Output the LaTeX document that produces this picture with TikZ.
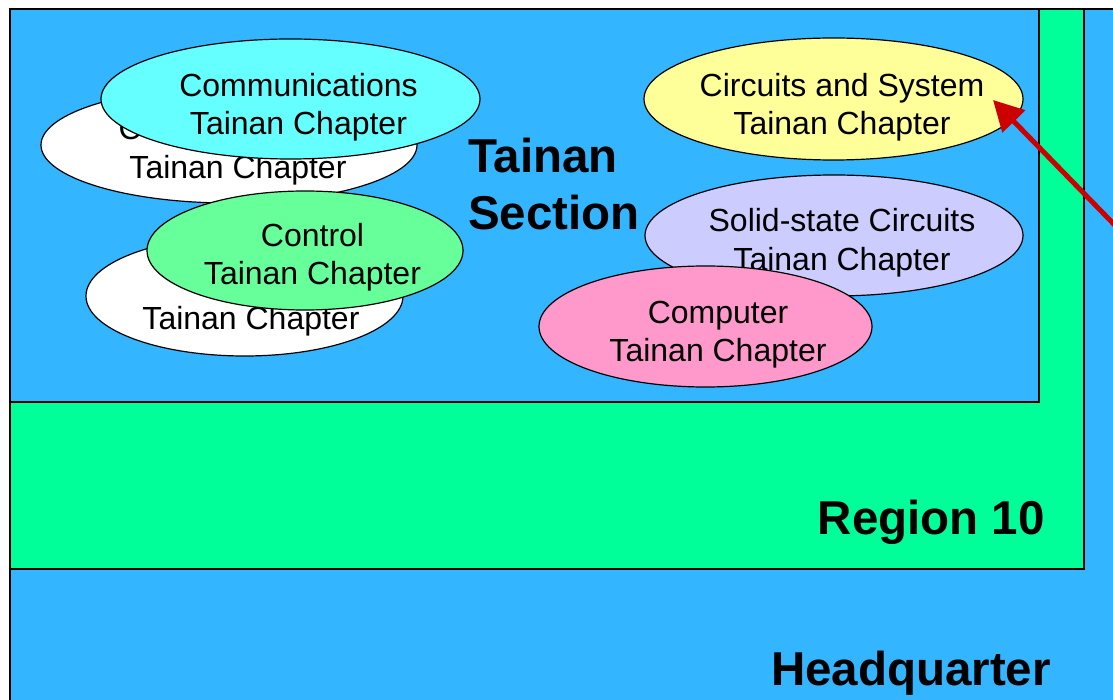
\documentclass[tikz,border=0pt]{standalone}
\usepackage{fontspec}
\setmainfont{Liberation Sans}
\usetikzlibrary{shapes.geometric,arrows.meta}
\definecolor{hqblue}{RGB}{51,181,255}
\definecolor{regreen}{RGB}{0,255,153}
\definecolor{ccyan}{RGB}{102,255,255}
\definecolor{cyellow}{RGB}{255,255,153}
\definecolor{clav}{RGB}{204,204,255}
\definecolor{cpink}{RGB}{255,153,204}
\definecolor{cgreen}{RGB}{102,255,153}
\definecolor{arrred}{RGB}{204,0,0}
\tikzset{
  chap/.style={ellipse, draw=black, line width=1.2pt, inner sep=0pt},
  lbl/.style={font=\fontsize{32}{38.5}\selectfont, align=center, inner sep=0pt},
  big/.style={font=\bfseries\fontsize{47.5}{57}\selectfont, inner sep=0pt},
  frame/.style={draw=black, line width=1.3pt}
}
\begin{document}
\begin{tikzpicture}[x=1pt,y=-1pt]
\useasboundingbox (0,0) rectangle (1113,700);
\clip (0,0) rectangle (1113,700);
\fill[white] (0,0) rectangle (1113,700);
% nested boxes
\draw[frame, fill=hqblue] (10,9) rectangle (1130,720);
\draw[frame, fill=regreen] (10,9) rectangle (1084,569);
\draw[frame, fill=hqblue] (10,9) rectangle (1039,402);
% labels of boxes
\node[big, anchor=base east] (hq) at (1051,685) {Headquarter};
\node[big, anchor=base east] (reg) at (1045,534) {Region 10};
\node[big, anchor=north west, align=left] (sec) at (468,138) {Tainan\\Section};
% left group
\node[chap, fill=white, minimum width=376pt, minimum height=116pt] (w1) at (229,145) {};
\node[lbl, anchor=base west] (w1a) at (118.5,140) {C};
\node[lbl, anchor=base] (w1b) at (238,179) {Tainan Chapter};
\node[chap, fill=ccyan, minimum width=379pt, minimum height=120pt] (comm) at (290.5,99) {};
\node[lbl, anchor=north] (commt) at (298.5,73) {Communications\\Tainan Chapter};
\node[chap, fill=white, minimum width=317pt, minimum height=120pt] (w2) at (244.5,296) {};
\node[lbl, anchor=base] (w2b) at (251,330) {Tainan Chapter};
\node[chap, fill=cgreen, minimum width=316pt, minimum height=119pt] (ctrl) at (305,250.5) {};
\node[lbl, anchor=north] (ctrlt) at (312.5,223) {Control\\Tainan Chapter};
% right group
\node[chap, fill=cyellow, minimum width=379pt, minimum height=122pt] (cas) at (833.5,99) {};
\node[lbl, anchor=north] (cast) at (842,73) {Circuits and System\\Tainan Chapter};
\node[chap, fill=clav, minimum width=378pt, minimum height=121pt] (ssc) at (834,235.5) {};
\node[lbl, anchor=north] (ssct) at (842,208.5) {Solid-state Circuits\\Tainan Chapter};
\node[chap, fill=cpink, minimum width=333pt, minimum height=121pt] (comp) at (705.5,326.5) {};
\node[lbl, anchor=north] (compt) at (718,300.5) {Computer\\Tainan Chapter};
% red arrow
\coordinate (tip) at (993,100);
\coordinate (tail) at (1140,251);
\draw[arrred, line width=5pt, -{Triangle[length=30pt,width=31pt]}] (tail) -- (tip);
\end{tikzpicture}
\end{document}
